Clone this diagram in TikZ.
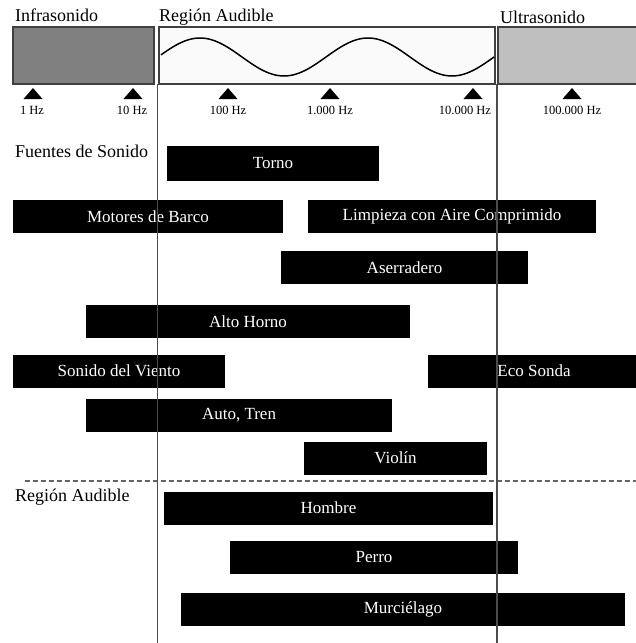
\documentclass[tikz,border=0pt]{standalone}
\usepackage{fontspec}
\setmainfont{Liberation Serif}
\usepackage{tikz}
\usetikzlibrary{arrows.meta}

\begin{document}
\begin{tikzpicture}[x=1pt, y=-1pt,
    bar/.style={fill=black, text=white, inner sep=0pt, minimum height=33pt, font=\fontsize{17}{20}\selectfont},
    band/.style={draw=black!75, line width=1.2pt, inner sep=0pt, minimum height=57pt},
    head/.style={anchor=base west, inner sep=0pt, font=\fontsize{18}{21}\selectfont},
    hz/.style={font=\fontsize{12.5}{14}\selectfont},
    guide/.style={black!70, line width=1.3pt}]
    \useasboundingbox (0,0) rectangle (635,643);

    % Bands
    \node[band, fill=black!50, minimum width=141pt] (infra) at (83.5,55.5) {};
    \node[band, fill=black!2, minimum width=336pt] (audible) at (327,55.5) {};
    \node[band, fill=black!25, minimum width=142pt] (ultra) at (569,55.5) {};
    \draw[line width=1.5pt, domain=161:494, samples=120, smooth]
        plot (\x, {57-19*sin((\x-158)/168*360)});
    \node[head] (tinfra) at (15,21) {Infrasonido};
    \node[head] (taudible) at (159,21) {Región Audible};
    \node[head] (tultra) at (500,23) {Ultrasonido};

    % Frequency marks
    \foreach \x/\lx/\f in {33/32/1 Hz, 133/132/10 Hz, 228/228/100 Hz,
                           330/330/1.000 Hz, 473/465/10.000 Hz, 572/572/100.000 Hz} {
        \fill (\x-9.5,99) -- (\x+9.5,99) -- (\x,88) -- cycle;
        \node[hz] at (\lx,110) {\f};
    }

    % Sources
    \node[head] (fuentes) at (15,157) {Fuentes de Sonido};
    \node[bar, minimum width=212pt, minimum height=35pt] (torno) at (273,163.5) {Torno};
    \node[bar, minimum width=270pt] (barco) at (148,216.5) {Motores de Barco};
    \node[bar, minimum width=288pt] (limpieza) at (452,216.5) {Limpieza con Aire Comprimido};
    \node[bar, minimum width=247pt] (aserradero) at (404.5,267.5) {Aserradero};
    \node[bar, minimum width=324pt] (horno) at (248,321.5) {Alto Horno};
    \node[bar, minimum width=212pt] (viento) at (119,371) {Sonido del Viento};
    \node[bar, minimum width=212pt] (eco) at (534,371) {Eco Sonda};
    \node[bar, minimum width=306pt] (auto) at (239,415.5) {Auto, Tren};
    \node[bar, minimum width=183pt] (violin) at (395.5,458) {Violín};

    % Hearing
    \coordinate (dl) at (25,481);
    \coordinate (dr) at (640,481);
    \draw[black!60, line width=1.2pt, dash pattern=on 5pt off 3pt] (dl) -- (dr);
    \node[head] (oido) at (15,501) {Región Audible};
    \node[bar, minimum width=329pt] (hombre) at (328.5,508) {Hombre};
    \node[bar, minimum width=288pt] (perro) at (374,557.5) {Perro};
    \node[bar, minimum width=444pt] (murcielago) at (403,609.5) {Murciélago};

    % Limits of audible range
    \coordinate (lt) at (157.5,84);
    \coordinate (lb) at (157.5,643);
    \coordinate (rt) at (497,84);
    \coordinate (rb) at (497,643);
    \draw[guide] (lt) -- (lb);
    \draw[guide] (rt) -- (rb);
\end{tikzpicture}
\end{document}
